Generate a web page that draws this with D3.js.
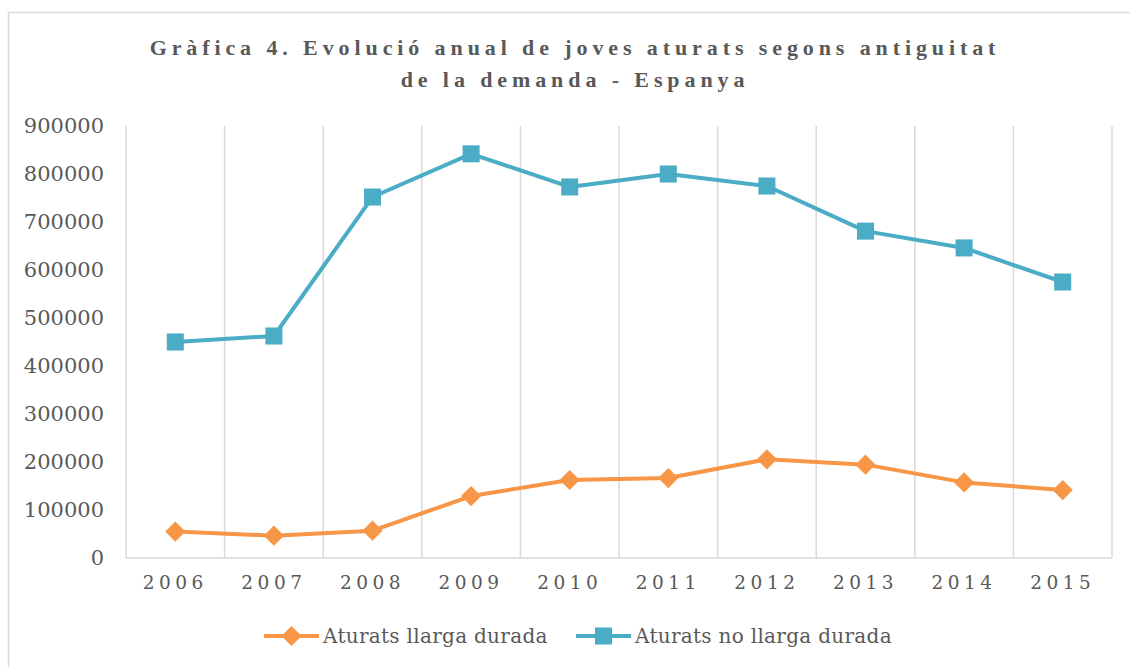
<!DOCTYPE html>
<html>
<head>
<meta charset="utf-8">
<script src="https://cdn.jsdelivr.net/npm/d3@7"></script>
<style>
  body { margin: 0; background: #fff; }
  svg { display: block; }
  text { fill: #595959; }
</style>
</head>
<body>
<div id="chart"></div>
<script>
var years = ["2006", "2007", "2008", "2009", "2010", "2011", "2012", "2013", "2014", "2015"];
var llargaDurada = [55000, 46500, 57000, 129000, 162500, 166500, 205500, 194500, 157500, 141500];
var noLlargaDurada = [450000, 462500, 752000, 842000, 773000, 800000, 775000, 681000, 646000, 575000];
var yTicks = [0, 100000, 200000, 300000, 400000, 500000, 600000, 700000, 800000, 900000];
var titleLines = ["Gràfica 4. Evolució anual de joves aturats segons antiguitat", "de la demanda - Espanya"];
var seriesNames = ["Aturats llarga durada", "Aturats no llarga durada"];

var width = 1130;
var height = 667;
var margin = ({ top: 126, right: 18, bottom: 109, left: 126 });

var orange = "#f79646";
var teal = "#4bacc6";
var gridColor = "#d9d9d9";

var svg = d3.select("#chart").append("svg")
  .attr("width", width)
  .attr("height", height);

// chart frame
svg.append("rect")
  .attr("x", 8.5).attr("y", 12.5)
  .attr("width", width).attr("height", height)
  .attr("fill", "none")
  .attr("stroke", gridColor)
  .attr("stroke-width", 1.5);

/* Scales */
var xScale = d3.scaleBand()
  .domain(years)
  .range([margin.left, width - margin.right]);

var yScale = d3.scaleLinear()
  .domain([0, 900000])
  .range([height - margin.bottom, margin.top]);

/* Grid: vertical lines between categories */
var bounds = years.map(d => xScale(d)).concat([xScale.range()[1]]);
svg.append("g")
  .selectAll("line")
  .data(bounds)
  .join("line")
  .attr("x1", d => d).attr("x2", d => d)
  .attr("y1", margin.top).attr("y2", height - margin.bottom)
  .attr("stroke", gridColor)
  .attr("stroke-width", 1.5);

// baseline
svg.append("line")
  .attr("x1", margin.left).attr("x2", width - margin.right)
  .attr("y1", yScale(0)).attr("y2", yScale(0))
  .attr("stroke", gridColor)
  .attr("stroke-width", 1.5);

/* Axes */
var yAxis = d3.axisLeft(yScale).tickValues(yTicks).tickFormat(d3.format("d")).tickSize(0).tickPadding(22);
svg.append("g")
  .attr("transform", `translate(${margin.left},0)`)
  .call(yAxis)
  .call(g => g.select(".domain").remove())
  .selectAll("text")
  .attr("font-family", "'DejaVu Serif', serif")
  .attr("font-size", 21)
  .attr("fill", "#595959");

var xAxis = d3.axisBottom(xScale).tickSize(0).tickPadding(18);
svg.append("g")
  .attr("transform", `translate(0,${height - margin.bottom})`)
  .call(xAxis)
  .call(g => g.select(".domain").remove())
  .selectAll("text")
  .attr("font-family", "'DejaVu Serif', serif")
  .attr("font-size", 18.5)
  .attr("letter-spacing", "4.5px")
  .attr("fill", "#595959");

/* Title */
svg.append("g").selectAll("text")
  .data(titleLines)
  .join("text")
  .attr("x", 575)
  .attr("y", (d, i) => 55 + i * 32)
  .attr("text-anchor", "middle")
  .attr("font-family", "'Liberation Serif', serif")
  .attr("font-weight", "bold")
  .attr("font-size", 22)
  .attr("letter-spacing", "4.9px")
  .text(d => d);

/* Lines */
var line = d3.line()
  .x((d, i) => xScale(years[i]) + xScale.bandwidth() / 2)
  .y(d => yScale(d));

var series = [
  { name: seriesNames[0], values: llargaDurada, color: orange, marker: d3.symbolDiamond2 },
  { name: seriesNames[1], values: noLlargaDurada, color: teal, marker: d3.symbolSquare }
];

series.forEach(function (s) {
  svg.append("path")
    .attr("d", line(s.values))
    .attr("fill", "none")
    .attr("stroke", s.color)
    .attr("stroke-width", 4)
    .attr("stroke-linejoin", "round");

  svg.append("g").selectAll("path")
    .data(s.values)
    .join("path")
    .attr("transform", (d, i) => `translate(${xScale(years[i]) + xScale.bandwidth() / 2},${yScale(d)})`)
    .attr("d", d3.symbol().type(s.marker).size(s.marker === d3.symbolSquare ? 290 : 260))
    .attr("fill", s.color);
});

/* Legend */
var legendItems = [
  { x: 264, s: series[0] },
  { x: 576, s: series[1] }
];
var legend = svg.append("g").selectAll("g")
  .data(legendItems)
  .join("g")
  .attr("transform", d => `translate(${d.x},636)`);

legend.append("line")
  .attr("x1", 0).attr("x2", 55)
  .attr("stroke", d => d.s.color)
  .attr("stroke-width", 4);

legend.append("path")
  .attr("transform", "translate(27.5,0)")
  .attr("d", d => d3.symbol().type(d.s.marker).size(d.s.marker === d3.symbolSquare ? 290 : 260)())
  .attr("fill", d => d.s.color);

legend.append("text")
  .attr("x", 59)
  .attr("y", 7)
  .attr("font-family", "'DejaVu Serif', serif")
  .attr("font-size", 20)
  .attr("letter-spacing", "0.3px")
  .attr("fill", "#595959")
  .text(d => d.s.name);
</script>
</body>
</html>
